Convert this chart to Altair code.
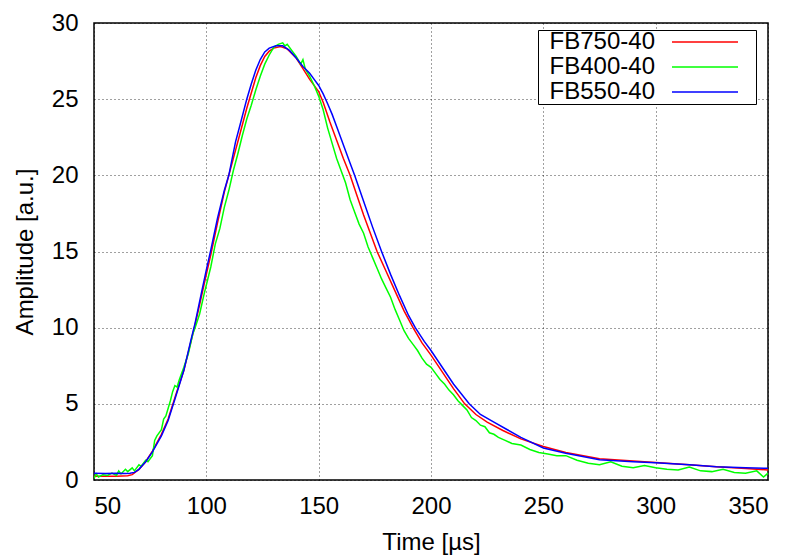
import altair as alt
import pandas as pd

series_names = ["FB750-40", "FB400-40", "FB550-40"]
series_colors = ["#ff0000", "#00ff00", "#0000ff"]

red_t = [50, 55, 60, 65, 67, 70, 73, 76, 80, 83, 86, 90, 93, 95, 97, 100, 102, 105, 108, 110, 112,
         115, 118, 120, 122, 124, 126, 128, 130, 133, 136, 140, 143, 146, 150, 152, 155, 158, 161,
         164, 167, 170, 173, 176, 180, 184, 188, 192, 196, 200, 205, 210, 215, 220, 225, 232, 240,
         250, 260, 275, 290, 300, 315, 327, 340, 350]
red_a = [0.25, 0.25, 0.25, 0.28, 0.35, 0.7, 1.2, 1.9, 3.0, 4.0, 5.4, 7.2, 9.0, 10.2, 11.5, 13.5, 14.8,
         16.9, 18.9, 20.0, 21.1, 22.75, 24.4, 25.4, 26.4, 27.2, 27.8, 28.15, 28.35, 28.45, 28.3, 27.7,
         27.0, 26.3, 25.5, 24.8, 23.5, 22.3, 21.1, 20.0, 18.7, 17.4, 16.2, 15.0, 13.7, 12.4, 11.1,
         10.0, 9.0, 8.2, 7.1, 6.0, 5.0, 4.3, 3.8, 3.25, 2.7, 2.2, 1.8, 1.4, 1.25, 1.15, 1.0, 0.87,
         0.75, 0.66]

green_t = [50, 51, 52, 54, 56, 58, 60, 61, 62, 64, 65, 67, 68, 70, 71, 73, 74, 76, 77, 78, 80, 81,
           82, 84, 85, 86, 87, 88, 90, 92, 94, 95, 97, 99, 100, 102, 104, 106, 108, 110, 112, 114,
           116, 118, 120, 122, 124, 126, 128, 130, 132, 134, 135, 136, 138, 140, 142, 143, 144, 146,
           148, 150, 152, 154, 156, 158, 160, 162, 164, 166, 168, 170, 172, 174, 176, 178, 180, 182,
           184, 186, 188, 190, 192, 194, 196, 198, 200, 202, 204, 206, 208, 210, 212, 214, 216, 218,
           220, 222, 224, 226, 228, 230, 233, 236, 240, 244, 248, 252, 256, 260, 265, 270, 275, 280,
           285, 290, 295, 300, 305, 310, 315, 320, 325, 330, 335, 340, 345, 348, 350]
green_a = [0.1, 0.4, 0.2, 0.35, 0.3, 0.45, 0.3, 0.6, 0.4, 0.7, 0.55, 0.8, 0.6, 1.0, 0.9, 1.3, 1.2,
           1.6, 2.6, 2.9, 3.3, 4.0, 4.2, 5.2, 5.8, 6.2, 6.1, 6.6, 7.4, 8.3, 9.6, 10.0, 10.9, 12.2,
           12.8, 14.0, 15.5, 16.5, 17.9, 19.0, 20.3, 21.4, 22.6, 23.7, 24.6, 25.6, 26.5, 27.3, 27.9,
           28.4, 28.6, 28.7, 28.5, 28.6, 28.2, 27.8, 27.3, 27.6, 27.0, 26.5, 25.9, 25.2, 24.3, 23.1,
           22.1, 21.1, 20.3, 19.5, 18.4, 17.6, 16.8, 16.2, 15.3, 14.6, 13.9, 13.2, 12.6, 12.0, 11.2,
           10.5, 9.8, 9.3, 8.9, 8.5, 8.0, 7.6, 7.4, 7.0, 6.6, 6.3, 5.9, 5.6, 5.2, 4.9, 4.6, 4.1, 3.9,
           3.6, 3.5, 3.1, 3.0, 2.8, 2.6, 2.4, 2.3, 2.0, 1.8, 1.7, 1.6, 1.6, 1.3, 1.1, 1.0, 1.2, 0.9,
           0.8, 0.95, 0.8, 0.7, 0.65, 0.85, 0.6, 0.55, 0.7, 0.5, 0.45, 0.6, 0.2, 0.45]

blue_t = [50, 55, 60, 64, 66, 68, 70, 73, 76, 80, 83, 86, 90, 93, 95, 97, 100, 102, 105, 108, 110,
          113, 115, 118, 120, 122, 124, 126, 128, 131, 134, 137, 140, 143, 146, 148, 150, 152, 154,
          156, 158, 160, 162, 164, 166, 170, 174, 178, 182, 186, 190, 193, 197, 200, 205, 210, 217,
          222, 228, 234, 240, 250, 260, 275, 290, 300, 315, 327, 340, 350]
blue_a = [0.45, 0.42, 0.45, 0.42, 0.45, 0.5, 0.7, 1.2, 1.85, 2.9, 3.9, 5.3, 7.2, 9.1, 10.3, 11.7,
          13.8, 15.1, 17.2, 19.0, 20.0, 22.2, 23.3, 25.0, 26.0, 26.9, 27.6, 28.1, 28.35, 28.5, 28.5,
          28.2, 27.7, 27.15, 26.7, 26.3, 25.9, 25.35, 24.7, 24.0, 23.2, 22.4, 21.6, 20.8, 20.0, 18.3,
          16.6, 15.0, 13.5, 12.1, 10.8, 10.0, 9.1, 8.5, 7.4, 6.3, 5.0, 4.3, 3.8, 3.3, 2.8, 2.1, 1.75,
          1.33, 1.2, 1.14, 1.0, 0.87, 0.8, 0.77]

x_ticks = [50, 100, 150, 200, 250, 300, 350]
y_ticks = [0, 5, 10, 15, 20, 25, 30]

rows = []
for name, ts, vs in zip(series_names, [red_t, green_t, blue_t], [red_a, green_a, blue_a]):
    for t, v in zip(ts, vs):
        rows.append({"series": name, "t": t, "a": v})
df = pd.DataFrame(rows)

FONT = "Liberation Sans"

chart = alt.Chart(df).mark_line(strokeWidth=1.5, clip=True).encode(
    x=alt.X("t:Q",
            scale=alt.Scale(domain=[50, 350], nice=False, zero=False),
            axis=alt.Axis(values=x_ticks, title="Time [µs]", labelPadding=14,
                          titlePadding=12, format="d")),
    y=alt.Y("a:Q",
            scale=alt.Scale(domain=[0, 30], nice=False),
            axis=alt.Axis(values=y_ticks, title="Amplitude [a.u.]", labelPadding=16,
                          titlePadding=14, format="d")),
    color=alt.Color("series:N",
                    scale=alt.Scale(domain=series_names, range=series_colors),
                    sort=series_names,
                    legend=alt.Legend(
                        title=None, orient="none", legendX=444, legendY=7,
                        symbolType="M -2.4 0 L -2.4 0 M 24.4 0 L 37.6 0 M 40.6 0 L 40.6 0",
                        symbolSize=100, symbolStrokeWidth=1.5,
                        symbolOffset=0, labelOffset=93, labelAlign="right",
                        labelFontSize=24, labelFont=FONT, labelColor="black",
                        rowPadding=1, padding=0,
                        strokeColor="black", fillColor="white", cornerRadius=0,
                        labelLimit=300)),
).properties(
    width=674, height=457,
    autosize=alt.AutoSizeParams(type="none"),
    padding={"left": 94, "top": 23, "right": 26, "bottom": 77},
).configure_view(
    stroke="black", strokeWidth=1.5
).configure_axis(
    labelFont=FONT, titleFont=FONT, labelFontSize=24, titleFontSize=24,
    titleFontWeight="normal", labelColor="black", titleColor="black",
    domain=False, ticks=False,
    grid=True, gridColor="#000000", gridDash=[1, 3], gridOpacity=0.75, gridWidth=1,
)

chart.save("out.html", embed_options={"renderer": "svg", "actions": False})
